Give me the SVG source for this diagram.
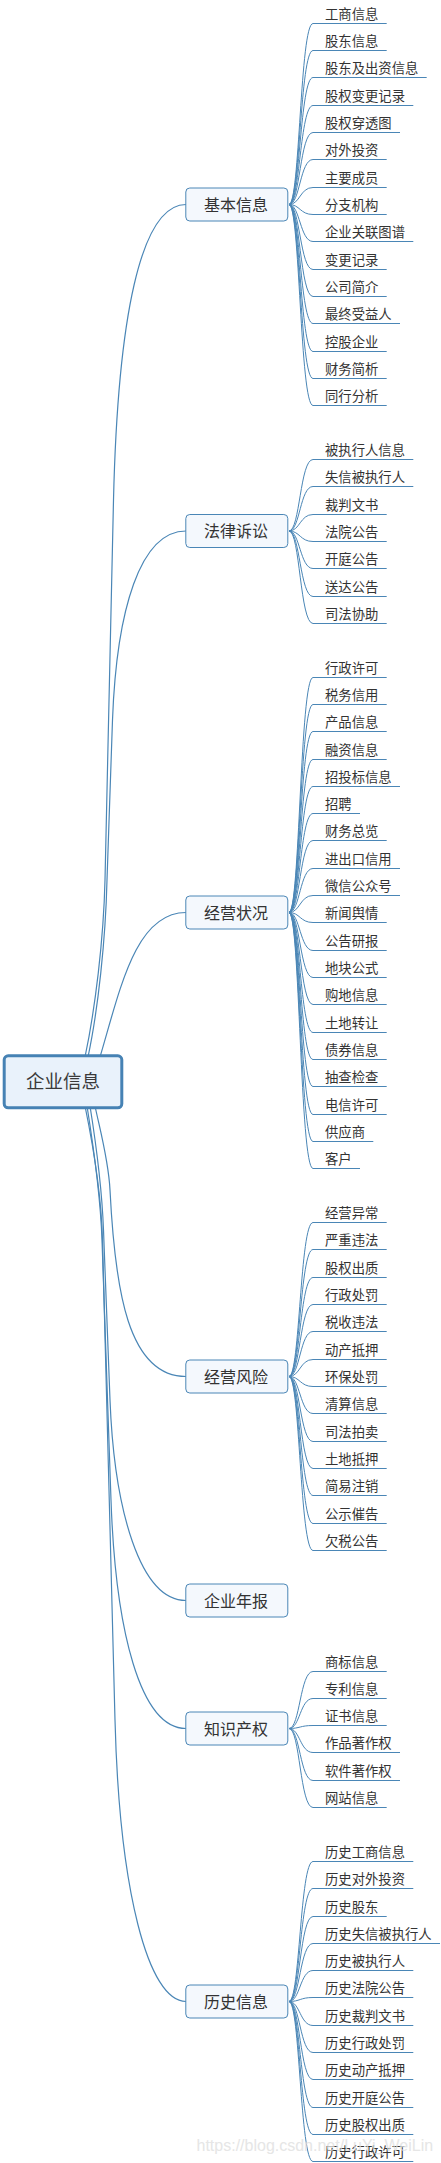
<svg xmlns="http://www.w3.org/2000/svg" width="441" height="2163" viewBox="0 0 441 2163">
<style>
.c{fill:none;stroke:#4a86b6;stroke-width:1}
.r{fill:none;stroke:#4a86b6;stroke-width:1.2}
.u{stroke:#4a86b6;stroke-width:1}
.t{font-family:"Noto Sans CJK SC","Noto Sans",sans-serif;font-size:13.33px;fill:#333}
.b{fill:#f4f8fd;stroke:#4a86b6;stroke-width:1}
.bt{font-family:"Noto Sans CJK SC","Noto Sans",sans-serif;font-size:16px;fill:#333;text-anchor:middle}
.root{fill:#e9f2fb;stroke:#4682b4;stroke-width:3}
.rt{font-family:"Noto Sans CJK SC","Noto Sans",sans-serif;font-size:18.5px;fill:#3a3a3a;text-anchor:middle}
.wm{font-family:"Liberation Sans",Arial,sans-serif;font-size:16px;fill:#e0e0e0}
</style>
<rect width="441" height="2163" fill="#fff"/>
<g id="connectors">
<path class="r" d="M85,1057 C95,1010 103.6,940 105,880 L113.5,500 C117.8,320 140,204.5 186,204.5"/>
<path class="r" d="M88,1057 C98,1010 105.6,940 107,880 L112.5,720 C116.6,610 140,531 186,531"/>
<path class="r" d="M100,1057 C120,990 135,912.5 186,912.5"/>
<path class="r" d="M95,1106 C100,1130 108.5,1160 110,1190 C115,1290 128,1376.5 186,1376.5"/>
<path class="r" d="M90,1106 C97,1150 102,1190 103.5,1230 L110,1400 C114.3,1510 140,1600.5 186,1600.5"/>
<path class="r" d="M87,1106 C94,1150 100.6,1200 102,1240 L111,1500 C115.5,1630 140,1728.5 186,1728.5"/>
<path class="r" d="M85,1106 C94,1150 101.5,1200 102.5,1240 L115,1720 C119.4,1890 148,2001.5 186,2001.5"/>
<path class="c" d="M289,204.5 C300,204.5 300,23.5 313,23.5"/>
<path class="c" d="M289,204.5 C300,204.5 300,50.5 313,50.5"/>
<path class="c" d="M289,204.5 C300,204.5 300,77.5 313,77.5"/>
<path class="c" d="M289,204.5 C300,204.5 300,105.5 313,105.5"/>
<path class="c" d="M289,204.5 C300,204.5 300,132.5 313,132.5"/>
<path class="c" d="M289,204.5 C300,204.5 300,159.5 313,159.5"/>
<path class="c" d="M289,204.5 C300,204.5 300,187.5 313,187.5"/>
<path class="c" d="M289,204.5 C300,204.5 300,214.5 313,214.5"/>
<path class="c" d="M289,204.5 C300,204.5 300,241.5 313,241.5"/>
<path class="c" d="M289,204.5 C300,204.5 300,269.5 313,269.5"/>
<path class="c" d="M289,204.5 C300,204.5 300,296.5 313,296.5"/>
<path class="c" d="M289,204.5 C300,204.5 300,323.5 313,323.5"/>
<path class="c" d="M289,204.5 C300,204.5 300,351.5 313,351.5"/>
<path class="c" d="M289,204.5 C300,204.5 300,378.5 313,378.5"/>
<path class="c" d="M289,204.5 C300,204.5 300,405.5 313,405.5"/>
<path class="c" d="M289,531 C300,531 300,459.5 313,459.5"/>
<path class="c" d="M289,531 C300,531 300,486.5 313,486.5"/>
<path class="c" d="M289,531 C300,531 300,514.5 313,514.5"/>
<path class="c" d="M289,531 C300,531 300,541.5 313,541.5"/>
<path class="c" d="M289,531 C300,531 300,568.5 313,568.5"/>
<path class="c" d="M289,531 C300,531 300,596.5 313,596.5"/>
<path class="c" d="M289,531 C300,531 300,623.5 313,623.5"/>
<path class="c" d="M289,912.5 C300,912.5 300,677.5 313,677.5"/>
<path class="c" d="M289,912.5 C300,912.5 300,704.5 313,704.5"/>
<path class="c" d="M289,912.5 C300,912.5 300,731.5 313,731.5"/>
<path class="c" d="M289,912.5 C300,912.5 300,759.5 313,759.5"/>
<path class="c" d="M289,912.5 C300,912.5 300,786.5 313,786.5"/>
<path class="c" d="M289,912.5 C300,912.5 300,813.5 313,813.5"/>
<path class="c" d="M289,912.5 C300,912.5 300,840.5 313,840.5"/>
<path class="c" d="M289,912.5 C300,912.5 300,868.5 313,868.5"/>
<path class="c" d="M289,912.5 C300,912.5 300,895.5 313,895.5"/>
<path class="c" d="M289,912.5 C300,912.5 300,922.5 313,922.5"/>
<path class="c" d="M289,912.5 C300,912.5 300,950.5 313,950.5"/>
<path class="c" d="M289,912.5 C300,912.5 300,977.5 313,977.5"/>
<path class="c" d="M289,912.5 C300,912.5 300,1004.5 313,1004.5"/>
<path class="c" d="M289,912.5 C300,912.5 300,1032.5 313,1032.5"/>
<path class="c" d="M289,912.5 C300,912.5 300,1059.5 313,1059.5"/>
<path class="c" d="M289,912.5 C300,912.5 300,1086.5 313,1086.5"/>
<path class="c" d="M289,912.5 C300,912.5 300,1114.5 313,1114.5"/>
<path class="c" d="M289,912.5 C300,912.5 300,1141.5 313,1141.5"/>
<path class="c" d="M289,912.5 C300,912.5 300,1168.5 313,1168.5"/>
<path class="c" d="M289,1376.5 C300,1376.5 300,1222.5 313,1222.5"/>
<path class="c" d="M289,1376.5 C300,1376.5 300,1249.5 313,1249.5"/>
<path class="c" d="M289,1376.5 C300,1376.5 300,1277.5 313,1277.5"/>
<path class="c" d="M289,1376.5 C300,1376.5 300,1304.5 313,1304.5"/>
<path class="c" d="M289,1376.5 C300,1376.5 300,1331.5 313,1331.5"/>
<path class="c" d="M289,1376.5 C300,1376.5 300,1359.5 313,1359.5"/>
<path class="c" d="M289,1376.5 C300,1376.5 300,1386.5 313,1386.5"/>
<path class="c" d="M289,1376.5 C300,1376.5 300,1413.5 313,1413.5"/>
<path class="c" d="M289,1376.5 C300,1376.5 300,1441.5 313,1441.5"/>
<path class="c" d="M289,1376.5 C300,1376.5 300,1468.5 313,1468.5"/>
<path class="c" d="M289,1376.5 C300,1376.5 300,1495.5 313,1495.5"/>
<path class="c" d="M289,1376.5 C300,1376.5 300,1523.5 313,1523.5"/>
<path class="c" d="M289,1376.5 C300,1376.5 300,1550.5 313,1550.5"/>
<path class="c" d="M289,1728.5 C300,1728.5 300,1671.5 313,1671.5"/>
<path class="c" d="M289,1728.5 C300,1728.5 300,1698.5 313,1698.5"/>
<path class="c" d="M289,1728.5 C300,1728.5 300,1725.5 313,1725.5"/>
<path class="c" d="M289,1728.5 C300,1728.5 300,1752.5 313,1752.5"/>
<path class="c" d="M289,1728.5 C300,1728.5 300,1780.5 313,1780.5"/>
<path class="c" d="M289,1728.5 C300,1728.5 300,1807.5 313,1807.5"/>
<path class="c" d="M289,2001.5 C300,2001.5 300,1861.5 313,1861.5"/>
<path class="c" d="M289,2001.5 C300,2001.5 300,1888.5 313,1888.5"/>
<path class="c" d="M289,2001.5 C300,2001.5 300,1916.5 313,1916.5"/>
<path class="c" d="M289,2001.5 C300,2001.5 300,1943.5 313,1943.5"/>
<path class="c" d="M289,2001.5 C300,2001.5 300,1970.5 313,1970.5"/>
<path class="c" d="M289,2001.5 C300,2001.5 300,1997.5 313,1997.5"/>
<path class="c" d="M289,2001.5 C300,2001.5 300,2025.5 313,2025.5"/>
<path class="c" d="M289,2001.5 C300,2001.5 300,2052.5 313,2052.5"/>
<path class="c" d="M289,2001.5 C300,2001.5 300,2079.5 313,2079.5"/>
<path class="c" d="M289,2001.5 C300,2001.5 300,2107.5 313,2107.5"/>
<path class="c" d="M289,2001.5 C300,2001.5 300,2134.5 313,2134.5"/>
<path class="c" d="M289,2001.5 C300,2001.5 300,2161.5 313,2161.5"/>
</g>
<g id="root"><rect class="root" x="4.2" y="1055.8" width="117.6" height="52" rx="4"/><text class="rt" x="63" y="1087.7">企业信息</text></g>
<g id="n1"><rect class="b" x="185.8" y="188" width="102" height="33" rx="4"/><text class="bt" x="236" y="210.5">基本信息</text></g>
<g id="n2"><rect class="b" x="185.8" y="514.5" width="102" height="33" rx="4"/><text class="bt" x="236" y="537">法律诉讼</text></g>
<g id="n3"><rect class="b" x="185.8" y="896" width="102" height="33" rx="4"/><text class="bt" x="236" y="918.5">经营状况</text></g>
<g id="n4"><rect class="b" x="185.8" y="1360" width="102" height="33" rx="4"/><text class="bt" x="236" y="1382.5">经营风险</text></g>
<g id="n5"><rect class="b" x="185.8" y="1584" width="102" height="33" rx="4"/><text class="bt" x="236" y="1606.5">企业年报</text></g>
<g id="n6"><rect class="b" x="185.8" y="1712" width="102" height="33" rx="4"/><text class="bt" x="236" y="1734.5">知识产权</text></g>
<g id="n7"><rect class="b" x="185.8" y="1985" width="102" height="33" rx="4"/><text class="bt" x="236" y="2007.5">历史信息</text></g>
<g id="leaves">
<g id="l1-1"><line class="u" x1="313" y1="23.5" x2="386.7" y2="23.5"/><text class="t" x="325" y="18.5">工商信息</text></g>
<g id="l1-2"><line class="u" x1="313" y1="50.5" x2="386.7" y2="50.5"/><text class="t" x="325" y="45.5">股东信息</text></g>
<g id="l1-3"><line class="u" x1="313" y1="77.5" x2="426.7" y2="77.5"/><text class="t" x="325" y="72.5">股东及出资信息</text></g>
<g id="l1-4"><line class="u" x1="313" y1="105.5" x2="413.3" y2="105.5"/><text class="t" x="325" y="100.5">股权变更记录</text></g>
<g id="l1-5"><line class="u" x1="313" y1="132.5" x2="400" y2="132.5"/><text class="t" x="325" y="127.5">股权穿透图</text></g>
<g id="l1-6"><line class="u" x1="313" y1="159.5" x2="386.7" y2="159.5"/><text class="t" x="325" y="154.5">对外投资</text></g>
<g id="l1-7"><line class="u" x1="313" y1="187.5" x2="386.7" y2="187.5"/><text class="t" x="325" y="182.5">主要成员</text></g>
<g id="l1-8"><line class="u" x1="313" y1="214.5" x2="386.7" y2="214.5"/><text class="t" x="325" y="209.5">分支机构</text></g>
<g id="l1-9"><line class="u" x1="313" y1="241.5" x2="413.3" y2="241.5"/><text class="t" x="325" y="236.5">企业关联图谱</text></g>
<g id="l1-10"><line class="u" x1="313" y1="269.5" x2="386.7" y2="269.5"/><text class="t" x="325" y="264.5">变更记录</text></g>
<g id="l1-11"><line class="u" x1="313" y1="296.5" x2="386.7" y2="296.5"/><text class="t" x="325" y="291.5">公司简介</text></g>
<g id="l1-12"><line class="u" x1="313" y1="323.5" x2="400" y2="323.5"/><text class="t" x="325" y="318.5">最终受益人</text></g>
<g id="l1-13"><line class="u" x1="313" y1="351.5" x2="386.7" y2="351.5"/><text class="t" x="325" y="346.5">控股企业</text></g>
<g id="l1-14"><line class="u" x1="313" y1="378.5" x2="386.7" y2="378.5"/><text class="t" x="325" y="373.5">财务简析</text></g>
<g id="l1-15"><line class="u" x1="313" y1="405.5" x2="386.7" y2="405.5"/><text class="t" x="325" y="400.5">同行分析</text></g>
<g id="l2-1"><line class="u" x1="313" y1="459.5" x2="413.3" y2="459.5"/><text class="t" x="325" y="454.5">被执行人信息</text></g>
<g id="l2-2"><line class="u" x1="313" y1="486.5" x2="413.3" y2="486.5"/><text class="t" x="325" y="481.5">失信被执行人</text></g>
<g id="l2-3"><line class="u" x1="313" y1="514.5" x2="386.7" y2="514.5"/><text class="t" x="325" y="509.5">裁判文书</text></g>
<g id="l2-4"><line class="u" x1="313" y1="541.5" x2="386.7" y2="541.5"/><text class="t" x="325" y="536.5">法院公告</text></g>
<g id="l2-5"><line class="u" x1="313" y1="568.5" x2="386.7" y2="568.5"/><text class="t" x="325" y="563.5">开庭公告</text></g>
<g id="l2-6"><line class="u" x1="313" y1="596.5" x2="386.7" y2="596.5"/><text class="t" x="325" y="591.5">送达公告</text></g>
<g id="l2-7"><line class="u" x1="313" y1="623.5" x2="386.7" y2="623.5"/><text class="t" x="325" y="618.5">司法协助</text></g>
<g id="l3-1"><line class="u" x1="313" y1="677.5" x2="386.7" y2="677.5"/><text class="t" x="325" y="672.5">行政许可</text></g>
<g id="l3-2"><line class="u" x1="313" y1="704.5" x2="386.7" y2="704.5"/><text class="t" x="325" y="699.5">税务信用</text></g>
<g id="l3-3"><line class="u" x1="313" y1="731.5" x2="386.7" y2="731.5"/><text class="t" x="325" y="726.5">产品信息</text></g>
<g id="l3-4"><line class="u" x1="313" y1="759.5" x2="386.7" y2="759.5"/><text class="t" x="325" y="754.5">融资信息</text></g>
<g id="l3-5"><line class="u" x1="313" y1="786.5" x2="400" y2="786.5"/><text class="t" x="325" y="781.5">招投标信息</text></g>
<g id="l3-6"><line class="u" x1="313" y1="813.5" x2="360" y2="813.5"/><text class="t" x="325" y="808.5">招聘</text></g>
<g id="l3-7"><line class="u" x1="313" y1="840.5" x2="386.7" y2="840.5"/><text class="t" x="325" y="835.5">财务总览</text></g>
<g id="l3-8"><line class="u" x1="313" y1="868.5" x2="400" y2="868.5"/><text class="t" x="325" y="863.5">进出口信用</text></g>
<g id="l3-9"><line class="u" x1="313" y1="895.5" x2="400" y2="895.5"/><text class="t" x="325" y="890.5">微信公众号</text></g>
<g id="l3-10"><line class="u" x1="313" y1="922.5" x2="386.7" y2="922.5"/><text class="t" x="325" y="917.5">新闻舆情</text></g>
<g id="l3-11"><line class="u" x1="313" y1="950.5" x2="386.7" y2="950.5"/><text class="t" x="325" y="945.5">公告研报</text></g>
<g id="l3-12"><line class="u" x1="313" y1="977.5" x2="386.7" y2="977.5"/><text class="t" x="325" y="972.5">地块公式</text></g>
<g id="l3-13"><line class="u" x1="313" y1="1004.5" x2="386.7" y2="1004.5"/><text class="t" x="325" y="999.5">购地信息</text></g>
<g id="l3-14"><line class="u" x1="313" y1="1032.5" x2="386.7" y2="1032.5"/><text class="t" x="325" y="1027.5">土地转让</text></g>
<g id="l3-15"><line class="u" x1="313" y1="1059.5" x2="386.7" y2="1059.5"/><text class="t" x="325" y="1054.5">债券信息</text></g>
<g id="l3-16"><line class="u" x1="313" y1="1086.5" x2="386.7" y2="1086.5"/><text class="t" x="325" y="1081.5">抽查检查</text></g>
<g id="l3-17"><line class="u" x1="313" y1="1114.5" x2="386.7" y2="1114.5"/><text class="t" x="325" y="1109.5">电信许可</text></g>
<g id="l3-18"><line class="u" x1="313" y1="1141.5" x2="373.3" y2="1141.5"/><text class="t" x="325" y="1136.5">供应商</text></g>
<g id="l3-19"><line class="u" x1="313" y1="1168.5" x2="360" y2="1168.5"/><text class="t" x="325" y="1163.5">客户</text></g>
<g id="l4-1"><line class="u" x1="313" y1="1222.5" x2="386.7" y2="1222.5"/><text class="t" x="325" y="1217.5">经营异常</text></g>
<g id="l4-2"><line class="u" x1="313" y1="1249.5" x2="386.7" y2="1249.5"/><text class="t" x="325" y="1244.5">严重违法</text></g>
<g id="l4-3"><line class="u" x1="313" y1="1277.5" x2="386.7" y2="1277.5"/><text class="t" x="325" y="1272.5">股权出质</text></g>
<g id="l4-4"><line class="u" x1="313" y1="1304.5" x2="386.7" y2="1304.5"/><text class="t" x="325" y="1299.5">行政处罚</text></g>
<g id="l4-5"><line class="u" x1="313" y1="1331.5" x2="386.7" y2="1331.5"/><text class="t" x="325" y="1326.5">税收违法</text></g>
<g id="l4-6"><line class="u" x1="313" y1="1359.5" x2="386.7" y2="1359.5"/><text class="t" x="325" y="1354.5">动产抵押</text></g>
<g id="l4-7"><line class="u" x1="313" y1="1386.5" x2="386.7" y2="1386.5"/><text class="t" x="325" y="1381.5">环保处罚</text></g>
<g id="l4-8"><line class="u" x1="313" y1="1413.5" x2="386.7" y2="1413.5"/><text class="t" x="325" y="1408.5">清算信息</text></g>
<g id="l4-9"><line class="u" x1="313" y1="1441.5" x2="386.7" y2="1441.5"/><text class="t" x="325" y="1436.5">司法拍卖</text></g>
<g id="l4-10"><line class="u" x1="313" y1="1468.5" x2="386.7" y2="1468.5"/><text class="t" x="325" y="1463.5">土地抵押</text></g>
<g id="l4-11"><line class="u" x1="313" y1="1495.5" x2="386.7" y2="1495.5"/><text class="t" x="325" y="1490.5">简易注销</text></g>
<g id="l4-12"><line class="u" x1="313" y1="1523.5" x2="386.7" y2="1523.5"/><text class="t" x="325" y="1518.5">公示催告</text></g>
<g id="l4-13"><line class="u" x1="313" y1="1550.5" x2="386.7" y2="1550.5"/><text class="t" x="325" y="1545.5">欠税公告</text></g>
<g id="l6-1"><line class="u" x1="313" y1="1671.5" x2="386.7" y2="1671.5"/><text class="t" x="325" y="1666.5">商标信息</text></g>
<g id="l6-2"><line class="u" x1="313" y1="1698.5" x2="386.7" y2="1698.5"/><text class="t" x="325" y="1693.5">专利信息</text></g>
<g id="l6-3"><line class="u" x1="313" y1="1725.5" x2="386.7" y2="1725.5"/><text class="t" x="325" y="1720.5">证书信息</text></g>
<g id="l6-4"><line class="u" x1="313" y1="1752.5" x2="400" y2="1752.5"/><text class="t" x="325" y="1747.5">作品著作权</text></g>
<g id="l6-5"><line class="u" x1="313" y1="1780.5" x2="400" y2="1780.5"/><text class="t" x="325" y="1775.5">软件著作权</text></g>
<g id="l6-6"><line class="u" x1="313" y1="1807.5" x2="386.7" y2="1807.5"/><text class="t" x="325" y="1802.5">网站信息</text></g>
<g id="l7-1"><line class="u" x1="313" y1="1861.5" x2="413.3" y2="1861.5"/><text class="t" x="325" y="1856.5">历史工商信息</text></g>
<g id="l7-2"><line class="u" x1="313" y1="1888.5" x2="413.3" y2="1888.5"/><text class="t" x="325" y="1883.5">历史对外投资</text></g>
<g id="l7-3"><line class="u" x1="313" y1="1916.5" x2="386.7" y2="1916.5"/><text class="t" x="325" y="1911.5">历史股东</text></g>
<g id="l7-4"><line class="u" x1="313" y1="1943.5" x2="440" y2="1943.5"/><text class="t" x="325" y="1938.5">历史失信被执行人</text></g>
<g id="l7-5"><line class="u" x1="313" y1="1970.5" x2="413.3" y2="1970.5"/><text class="t" x="325" y="1965.5">历史被执行人</text></g>
<g id="l7-6"><line class="u" x1="313" y1="1997.5" x2="413.3" y2="1997.5"/><text class="t" x="325" y="1992.5">历史法院公告</text></g>
<g id="l7-7"><line class="u" x1="313" y1="2025.5" x2="413.3" y2="2025.5"/><text class="t" x="325" y="2020.5">历史裁判文书</text></g>
<g id="l7-8"><line class="u" x1="313" y1="2052.5" x2="413.3" y2="2052.5"/><text class="t" x="325" y="2047.5">历史行政处罚</text></g>
<g id="l7-9"><line class="u" x1="313" y1="2079.5" x2="413.3" y2="2079.5"/><text class="t" x="325" y="2074.5">历史动产抵押</text></g>
<g id="l7-10"><line class="u" x1="313" y1="2107.5" x2="413.3" y2="2107.5"/><text class="t" x="325" y="2102.5">历史开庭公告</text></g>
<g id="l7-11"><line class="u" x1="313" y1="2134.5" x2="413.3" y2="2134.5"/><text class="t" x="325" y="2129.5">历史股权出质</text></g>
<g id="l7-12"><line class="u" x1="313" y1="2161.5" x2="413.3" y2="2161.5"/><text class="t" x="325" y="2156.5">历史行政许可</text></g>
</g>
<text class="wm" x="196.5" y="2150.5" opacity="0.8">https://blog.csdn.net/LuYi_WeiLin</text>
</svg>
